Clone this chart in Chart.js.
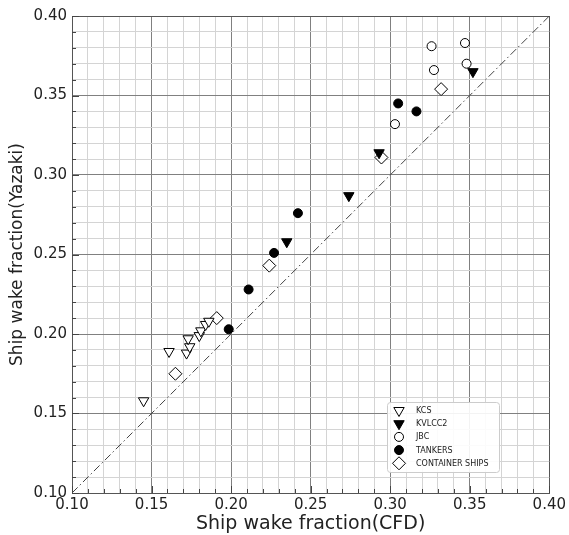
<!DOCTYPE html>
<html>
<head>
<meta charset="utf-8">
<script src="https://cdn.jsdelivr.net/npm/chart.js@4.4.1/dist/chart.umd.min.js"></script>
<style>
  html, body { margin: 0; padding: 0; background: #fff; }
  #wrap { width: 569px; height: 535px; position: relative; }
</style>
</head>
<body>
<div id="wrap"><canvas id="c" width="569" height="535"></canvas></div>
<script>
// ---- data ----
const kcsX = [0.145, 0.161, 0.172, 0.174, 0.173, 0.180, 0.181, 0.184, 0.186];
const kcsY = [0.158, 0.189, 0.188, 0.192, 0.197, 0.199, 0.202, 0.206, 0.208];
const kvlccX = [0.235, 0.274, 0.293, 0.352];
const kvlccY = [0.258, 0.287, 0.314, 0.365];
const jbcX = [0.303, 0.326, 0.3275, 0.347, 0.348];
const jbcY = [0.332, 0.381, 0.366, 0.383, 0.370];
const tankX = [0.1985, 0.211, 0.227, 0.242, 0.305, 0.3165];
const tankY = [0.203, 0.228, 0.251, 0.276, 0.345, 0.340];
const contX = [0.165, 0.191, 0.224, 0.2945, 0.332];
const contY = [0.175, 0.210, 0.243, 0.311, 0.354];
const refLineX = [0.10, 0.40];
const refLineY = [0.10, 0.40];
const axisMin = 0.10, axisMax = 0.40, minorStep = 0.01, majorStep = 0.05;
const seriesLabels = ['KCS', 'KVLCC2', 'JBC', 'TANKERS', 'CONTAINER SHIPS'];

const pts = (xs, ys) => xs.map((x, i) => ({x: x, y: ys[i]}));
const isMajor = v => Math.abs(v / majorStep - Math.round(v / majorStep)) < 1e-6;

const FONT = "'DejaVu Sans', 'Liberation Sans', sans-serif";

const datasets = [
  {label: seriesLabels[0], data: pts(kcsX, kcsY), pointStyle: 'triangle', pointRotation: 180, pointRadius: 6,
   backgroundColor: '#ffffff', borderColor: '#000000', borderWidth: 1},
  {label: seriesLabels[1], data: pts(kvlccX, kvlccY), pointStyle: 'triangle', pointRotation: 180, pointRadius: 6,
   backgroundColor: '#000000', borderColor: '#000000', borderWidth: 1},
  {label: seriesLabels[2], data: pts(jbcX, jbcY), pointStyle: 'circle', pointRadius: 4.5,
   backgroundColor: '#ffffff', borderColor: '#000000', borderWidth: 1},
  {label: seriesLabels[3], data: pts(tankX, tankY), pointStyle: 'circle', pointRadius: 4.5,
   backgroundColor: '#000000', borderColor: '#000000', borderWidth: 1},
  {label: seriesLabels[4], data: pts(contX, contY), pointStyle: 'rectRot', pointRadius: 6.5,
   backgroundColor: '#ffffff', borderColor: '#000000', borderWidth: 1},
  {label: 'y = x', data: pts(refLineX, refLineY), showLine: true, pointRadius: 0, borderColor: '#444444',
   borderWidth: 1, borderDash: [8, 3, 1.5, 3], fill: false, order: 10}
];

const inTicks = {
  id: 'inTicks',
  beforeDatasetsDraw(chart) {
    const ctx = chart.ctx, xs = chart.scales.x, ys = chart.scales.y, ca = chart.chartArea;
    ctx.save();
    ctx.strokeStyle = '#444';
    ctx.lineWidth = 1;
    for (let k = 0; k <= 30; k++) {
      const v = axisMin + k * minorStep;
      const len = isMajor(v) ? 7 : 4;
      const px = Math.round(xs.getPixelForValue(v)) + 0.5;
      const py = Math.round(ys.getPixelForValue(v)) + 0.5;
      ctx.beginPath(); ctx.moveTo(px, ca.bottom); ctx.lineTo(px, ca.bottom - len); ctx.stroke();
      ctx.beginPath(); ctx.moveTo(ca.left, py); ctx.lineTo(ca.left + len, py); ctx.stroke();
    }
    ctx.restore();
  }
};

const boxLegend = {
  id: 'boxLegend',
  afterDatasetsDraw(chart) {
    const ctx = chart.ctx, ca = chart.chartArea;
    const bx = ca.left + 315, by = ca.top + 386, bw = 112, bh = 70;
    ctx.save();
    ctx.fillStyle = 'rgba(255,255,255,0.9)';
    ctx.strokeStyle = '#cccccc';
    ctx.lineWidth = 1;
    ctx.beginPath();
    ctx.roundRect(bx + 0.5, by + 0.5, bw, bh, 3);
    ctx.fill(); ctx.stroke();
    ctx.font = '8px ' + FONT;
    ctx.textBaseline = 'middle';
    ctx.textAlign = 'left';
    for (let i = 0; i < 5; i++) {
      const ds = chart.data.datasets[i];
      const y = by + 8.5 + i * 13.2;
      ctx.fillStyle = ds.backgroundColor;
      ctx.strokeStyle = ds.borderColor;
      ctx.lineWidth = ds.borderWidth;
      Chart.helpers.drawPoint(ctx, {pointStyle: ds.pointStyle, rotation: ds.pointRotation || 0,
        radius: ds.pointRadius, borderWidth: ds.borderWidth}, bx + 12, y);
      ctx.fillStyle = '#222';
      ctx.fillText(ds.label, bx + 29, y + 0.5);
    }
    ctx.restore();
  }
};

function gridColor(c) {
  const v = c.tick.value;
  if (Math.abs(v - axisMin) < 1e-6 || Math.abs(v - axisMax) < 1e-6) return '#555555';
  return isMajor(v) ? '#808080' : '#d4d4d4';
}

const tickOpts = {
  stepSize: minorStep,
  autoSkip: false,
  maxTicksLimit: 100,
  maxRotation: 0,
  minRotation: 0,
  color: '#222',
  font: {family: FONT, size: 15},
  callback: v => isMajor(v) ? v.toFixed(2) : ''
};

new Chart(document.getElementById('c'), {
  type: 'scatter',
  data: {datasets: datasets},
  plugins: [inTicks, boxLegend],
  options: {
    responsive: false,
    animation: false,
    layout: {padding: {top: 16, right: 18, left: 0, bottom: 0}},
    plugins: {legend: {display: false}, tooltip: {enabled: false}},
    scales: {
      x: {
        type: 'linear', min: axisMin, max: axisMax,
        afterFit: s => { s.height = 42; },
        grid: {color: gridColor, lineWidth: 1, drawTicks: false},
        border: {display: true, color: '#555555', width: 1},
        ticks: Object.assign({}, tickOpts, {padding: 3}),
        title: {display: true, text: 'Ship wake fraction(CFD)', color: '#222',
                font: {family: FONT, size: 19}, padding: {top: 0, bottom: 0}}
      },
      y: {
        type: 'linear', min: axisMin, max: axisMax,
        afterFit: s => { s.width = 72; },
        grid: {color: gridColor, lineWidth: 1, drawTicks: false},
        border: {display: true, color: '#555555', width: 1},
        ticks: Object.assign({}, tickOpts, {padding: 5}),
        title: {display: true, text: 'Ship wake fraction(Yazaki)', color: '#222',
                font: {family: FONT, size: 17}, padding: {top: 7, bottom: 0}}
      }
    }
  }
});
</script>
</body>
</html>
